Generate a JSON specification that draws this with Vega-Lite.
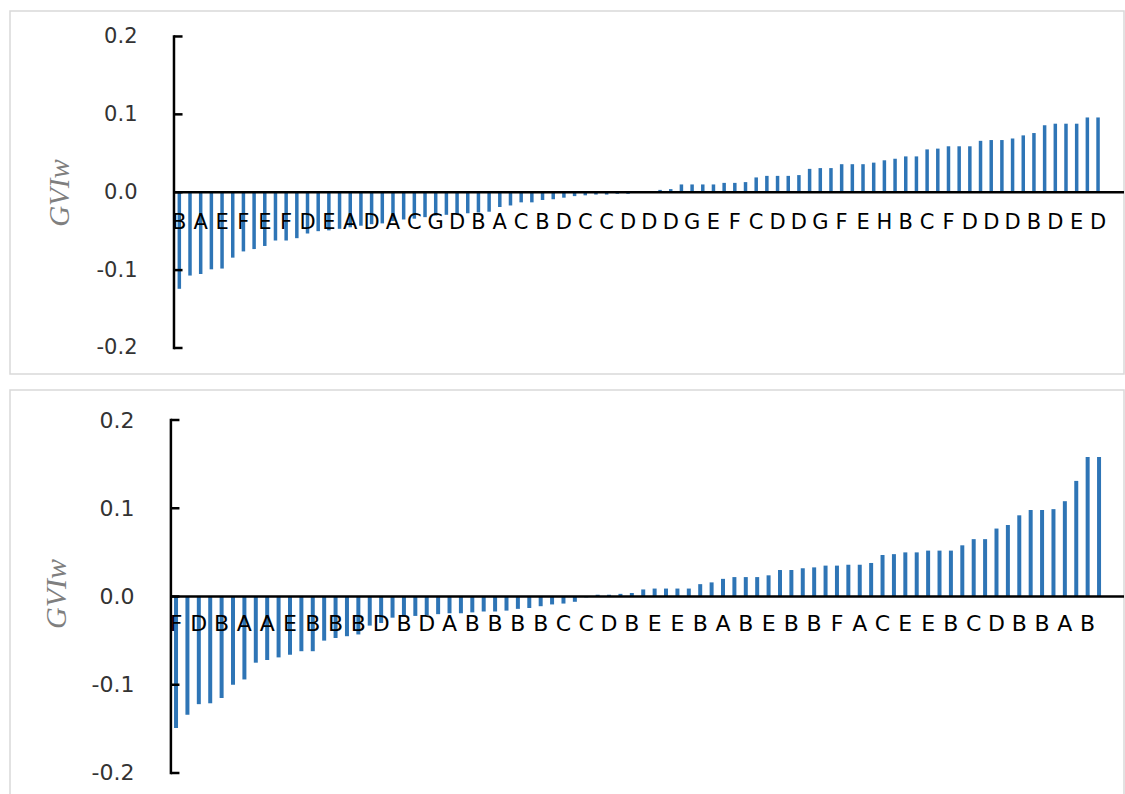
{
  "$schema": "https://vega.github.io/schema/vega-lite/v6.json",
  "padding": {"left": 9, "top": 10, "right": 2, "bottom": 0},
  "background": "white",
  "spacing": 14,
  "config": {
    "view": {"stroke": "#d9d9d9", "strokeWidth": 1.5},
    "axis": {"grid": false, "domain": false, "ticks": false}
  },
  "datasets": {
    "ticks": [{"t": -0.2}, {"t": -0.1}, {"t": 0}, {"t": 0.1}, {"t": 0.2}],
    "top": [
      {"i":1,"v":-0.124,"c":"B"},{"i":2,"v":-0.107,"c":""},{"i":3,"v":-0.105,"c":"A"},{"i":4,"v":-0.099,"c":""},
      {"i":5,"v":-0.098,"c":"E"},{"i":6,"v":-0.084,"c":""},{"i":7,"v":-0.076,"c":"F"},{"i":8,"v":-0.073,"c":""},
      {"i":9,"v":-0.069,"c":"E"},{"i":10,"v":-0.062,"c":""},{"i":11,"v":-0.062,"c":"F"},{"i":12,"v":-0.059,"c":""},
      {"i":13,"v":-0.053,"c":"D"},{"i":14,"v":-0.050,"c":""},{"i":15,"v":-0.049,"c":"E"},{"i":16,"v":-0.047,"c":""},
      {"i":17,"v":-0.045,"c":"A"},{"i":18,"v":-0.043,"c":""},{"i":19,"v":-0.041,"c":"D"},{"i":20,"v":-0.040,"c":""},
      {"i":21,"v":-0.037,"c":"A"},{"i":22,"v":-0.035,"c":""},{"i":23,"v":-0.034,"c":"C"},{"i":24,"v":-0.032,"c":""},
      {"i":25,"v":-0.030,"c":"G"},{"i":26,"v":-0.029,"c":""},{"i":27,"v":-0.028,"c":"D"},{"i":28,"v":-0.027,"c":""},
      {"i":29,"v":-0.026,"c":"B"},{"i":30,"v":-0.025,"c":""},{"i":31,"v":-0.019,"c":"A"},{"i":32,"v":-0.017,"c":""},
      {"i":33,"v":-0.013,"c":"C"},{"i":34,"v":-0.013,"c":""},{"i":35,"v":-0.010,"c":"B"},{"i":36,"v":-0.009,"c":""},
      {"i":37,"v":-0.007,"c":"D"},{"i":38,"v":-0.005,"c":""},{"i":39,"v":-0.004,"c":"C"},{"i":40,"v":-0.003,"c":""},
      {"i":41,"v":-0.003,"c":"C"},{"i":42,"v":-0.002,"c":""},{"i":43,"v":-0.002,"c":"D"},{"i":44,"v":-0.001,"c":""},
      {"i":45,"v":0.001,"c":"D"},{"i":46,"v":0.003,"c":""},{"i":47,"v":0.004,"c":"D"},{"i":48,"v":0.010,"c":""},
      {"i":49,"v":0.010,"c":"G"},{"i":50,"v":0.010,"c":""},{"i":51,"v":0.010,"c":"E"},{"i":52,"v":0.012,"c":""},
      {"i":53,"v":0.012,"c":"F"},{"i":54,"v":0.013,"c":""},{"i":55,"v":0.019,"c":"C"},{"i":56,"v":0.021,"c":""},
      {"i":57,"v":0.021,"c":"D"},{"i":58,"v":0.021,"c":""},{"i":59,"v":0.022,"c":"D"},{"i":60,"v":0.030,"c":""},
      {"i":61,"v":0.031,"c":"G"},{"i":62,"v":0.031,"c":""},{"i":63,"v":0.036,"c":"F"},{"i":64,"v":0.036,"c":""},
      {"i":65,"v":0.036,"c":"E"},{"i":66,"v":0.038,"c":""},{"i":67,"v":0.041,"c":"H"},{"i":68,"v":0.043,"c":""},
      {"i":69,"v":0.046,"c":"B"},{"i":70,"v":0.046,"c":""},{"i":71,"v":0.055,"c":"C"},{"i":72,"v":0.056,"c":""},
      {"i":73,"v":0.059,"c":"F"},{"i":74,"v":0.059,"c":""},{"i":75,"v":0.059,"c":"D"},{"i":76,"v":0.066,"c":""},
      {"i":77,"v":0.067,"c":"D"},{"i":78,"v":0.067,"c":""},{"i":79,"v":0.069,"c":"D"},{"i":80,"v":0.073,"c":""},
      {"i":81,"v":0.076,"c":"B"},{"i":82,"v":0.086,"c":""},{"i":83,"v":0.088,"c":"D"},{"i":84,"v":0.088,"c":""},
      {"i":85,"v":0.088,"c":"E"},{"i":86,"v":0.096,"c":""},{"i":87,"v":0.096,"c":"D"}
    ],
    "bottom": [
      {"i":1,"v":-0.149,"c":"F"},{"i":2,"v":-0.134,"c":""},{"i":3,"v":-0.122,"c":"D"},{"i":4,"v":-0.121,"c":""},
      {"i":5,"v":-0.115,"c":"B"},{"i":6,"v":-0.100,"c":""},{"i":7,"v":-0.094,"c":"A"},{"i":8,"v":-0.075,"c":""},
      {"i":9,"v":-0.072,"c":"A"},{"i":10,"v":-0.069,"c":""},{"i":11,"v":-0.066,"c":"E"},{"i":12,"v":-0.062,"c":""},
      {"i":13,"v":-0.062,"c":"B"},{"i":14,"v":-0.050,"c":""},{"i":15,"v":-0.047,"c":"B"},{"i":16,"v":-0.045,"c":""},
      {"i":17,"v":-0.043,"c":"B"},{"i":18,"v":-0.033,"c":""},{"i":19,"v":-0.030,"c":"D"},{"i":20,"v":-0.024,"c":""},
      {"i":21,"v":-0.023,"c":"B"},{"i":22,"v":-0.022,"c":""},{"i":23,"v":-0.021,"c":"D"},{"i":24,"v":-0.020,"c":""},
      {"i":25,"v":-0.019,"c":"A"},{"i":26,"v":-0.019,"c":""},{"i":27,"v":-0.018,"c":"B"},{"i":28,"v":-0.017,"c":""},
      {"i":29,"v":-0.017,"c":"B"},{"i":30,"v":-0.016,"c":""},{"i":31,"v":-0.014,"c":"B"},{"i":32,"v":-0.013,"c":""},
      {"i":33,"v":-0.011,"c":"B"},{"i":34,"v":-0.009,"c":""},{"i":35,"v":-0.008,"c":"C"},{"i":36,"v":-0.006,"c":""},
      {"i":37,"v":-0.001,"c":"C"},{"i":38,"v":0.002,"c":""},{"i":39,"v":0.002,"c":"D"},{"i":40,"v":0.003,"c":""},
      {"i":41,"v":0.004,"c":"B"},{"i":42,"v":0.008,"c":""},{"i":43,"v":0.009,"c":"E"},{"i":44,"v":0.009,"c":""},
      {"i":45,"v":0.009,"c":"E"},{"i":46,"v":0.009,"c":""},{"i":47,"v":0.014,"c":"B"},{"i":48,"v":0.016,"c":""},
      {"i":49,"v":0.020,"c":"A"},{"i":50,"v":0.022,"c":""},{"i":51,"v":0.022,"c":"B"},{"i":52,"v":0.022,"c":""},
      {"i":53,"v":0.024,"c":"E"},{"i":54,"v":0.030,"c":""},{"i":55,"v":0.030,"c":"B"},{"i":56,"v":0.032,"c":""},
      {"i":57,"v":0.033,"c":"B"},{"i":58,"v":0.035,"c":""},{"i":59,"v":0.035,"c":"F"},{"i":60,"v":0.036,"c":""},
      {"i":61,"v":0.036,"c":"A"},{"i":62,"v":0.038,"c":""},{"i":63,"v":0.047,"c":"C"},{"i":64,"v":0.048,"c":""},
      {"i":65,"v":0.050,"c":"E"},{"i":66,"v":0.050,"c":""},{"i":67,"v":0.052,"c":"E"},{"i":68,"v":0.052,"c":""},
      {"i":69,"v":0.052,"c":"B"},{"i":70,"v":0.058,"c":""},{"i":71,"v":0.065,"c":"C"},{"i":72,"v":0.065,"c":""},
      {"i":73,"v":0.077,"c":"D"},{"i":74,"v":0.081,"c":""},{"i":75,"v":0.092,"c":"B"},{"i":76,"v":0.098,"c":""},
      {"i":77,"v":0.098,"c":"B"},{"i":78,"v":0.099,"c":""},{"i":79,"v":0.108,"c":"A"},{"i":80,"v":0.131,"c":""},
      {"i":81,"v":0.158,"c":"B"},{"i":82,"v":0.158,"c":""}
    ]
  },
  "vconcat": [
    {
      "width": 1114,
      "height": 363,
      "layer": [
        {
          "data": {"name": "top"},
          "mark": {"type": "bar", "orient": "vertical", "size": 3.5, "color": "#2E75B6"},
          "encoding": {
            "x": {"field": "i", "type": "quantitative", "axis": null,
                  "scale": {"domain": [-14.85, 89.43], "nice": false, "zero": false, "padding": 0}},
            "y": {"field": "v", "type": "quantitative",
                  "scale": {"domain": [-0.2334, 0.2327], "nice": false},
                  "axis": {"values": [-0.2, -0.1, 0, 0.1, 0.2], "format": ".1f", "offset": -127,
                           "labelExpr": "replace(datum.label, '−', '-')",
                           "labelPadding": 0, "labelFont": "DejaVu Sans", "labelFontSize": 21, "labelColor": "#333333",
                           "title": "GVIw", "titleFont": "Liberation Serif", "titleFontStyle": "italic",
                           "titleFontWeight": "normal", "titleFontSize": 29, "titleColor": "#7f7f7f", "titlePadding": 22}},
            "y2": {"datum": 0}
          }
        },
        {
          "data": {"name": "ticks"},
          "transform": [{"filter": "datum.t == 0"}],
          "mark": {"type": "rule", "color": "black", "strokeWidth": 2.5},
          "encoding": {"x": {"datum": 0.5}, "x2": {"datum": 89.43}, "y": {"field": "t", "type": "quantitative"}}
        },
        {
          "data": {"name": "ticks"},
          "transform": [{"filter": "datum.t == 0.2"}],
          "mark": {"type": "rule", "color": "black", "strokeWidth": 2.5, "strokeCap": "square"},
          "encoding": {"x": {"datum": 0.5}, "y": {"field": "t", "type": "quantitative"}, "y2": {"datum": -0.2}}
        },
        {
          "data": {"name": "ticks"},
          "mark": {"type": "rule", "color": "black", "strokeWidth": 2.5},
          "encoding": {"x": {"datum": 0.5}, "x2": {"datum": 1.3}, "y": {"field": "t", "type": "quantitative"}}
        },
        {
          "data": {"name": "top"},
          "transform": [{"filter": "datum.c != ''"}],
          "mark": {"type": "text", "baseline": "alphabetic", "dy": 37, "font": "DejaVu Sans", "fontSize": 21, "color": "black"},
          "encoding": {"x": {"field": "i", "type": "quantitative"}, "y": {"datum": 0}, "text": {"field": "c"}}
        }
      ]
    },
    {
      "width": 1114,
      "height": 407,
      "layer": [
        {
          "data": {"name": "bottom"},
          "mark": {"type": "bar", "orient": "vertical", "size": 4, "color": "#2E75B6"},
          "encoding": {
            "x": {"field": "i", "type": "quantitative", "axis": null,
                  "scale": {"domain": [-13.57, 84.19], "nice": false, "zero": false, "padding": 0}},
            "y": {"field": "v", "type": "quantitative",
                  "scale": {"domain": [-0.2272, 0.234], "nice": false},
                  "axis": {"values": [-0.2, -0.1, 0, 0.1, 0.2], "format": ".1f", "offset": -124,
                           "labelExpr": "replace(datum.label, '−', '-')",
                           "labelPadding": 0, "labelFont": "DejaVu Sans", "labelFontSize": 22, "labelColor": "#333333",
                           "title": "GVIw", "titleFont": "Liberation Serif", "titleFontStyle": "italic",
                           "titleFontWeight": "normal", "titleFontSize": 30, "titleColor": "#7f7f7f", "titlePadding": 20}},
            "y2": {"datum": 0}
          }
        },
        {
          "data": {"name": "ticks"},
          "transform": [{"filter": "datum.t == 0"}],
          "mark": {"type": "rule", "color": "black", "strokeWidth": 2.5},
          "encoding": {"x": {"datum": 0.55}, "x2": {"datum": 84.19}, "y": {"field": "t", "type": "quantitative"}}
        },
        {
          "data": {"name": "ticks"},
          "transform": [{"filter": "datum.t == 0.2"}],
          "mark": {"type": "rule", "color": "black", "strokeWidth": 2.5, "strokeCap": "square"},
          "encoding": {"x": {"datum": 0.55}, "y": {"field": "t", "type": "quantitative"}, "y2": {"datum": -0.2}}
        },
        {
          "data": {"name": "ticks"},
          "mark": {"type": "rule", "color": "black", "strokeWidth": 2.5},
          "encoding": {"x": {"datum": 0.55}, "x2": {"datum": 1.3}, "y": {"field": "t", "type": "quantitative"}}
        },
        {
          "data": {"name": "bottom"},
          "transform": [{"filter": "datum.c != ''"}],
          "mark": {"type": "text", "baseline": "alphabetic", "dy": 34, "font": "DejaVu Sans", "fontSize": 22, "color": "black"},
          "encoding": {"x": {"field": "i", "type": "quantitative"}, "y": {"datum": 0}, "text": {"field": "c"}}
        }
      ]
    }
  ]
}
